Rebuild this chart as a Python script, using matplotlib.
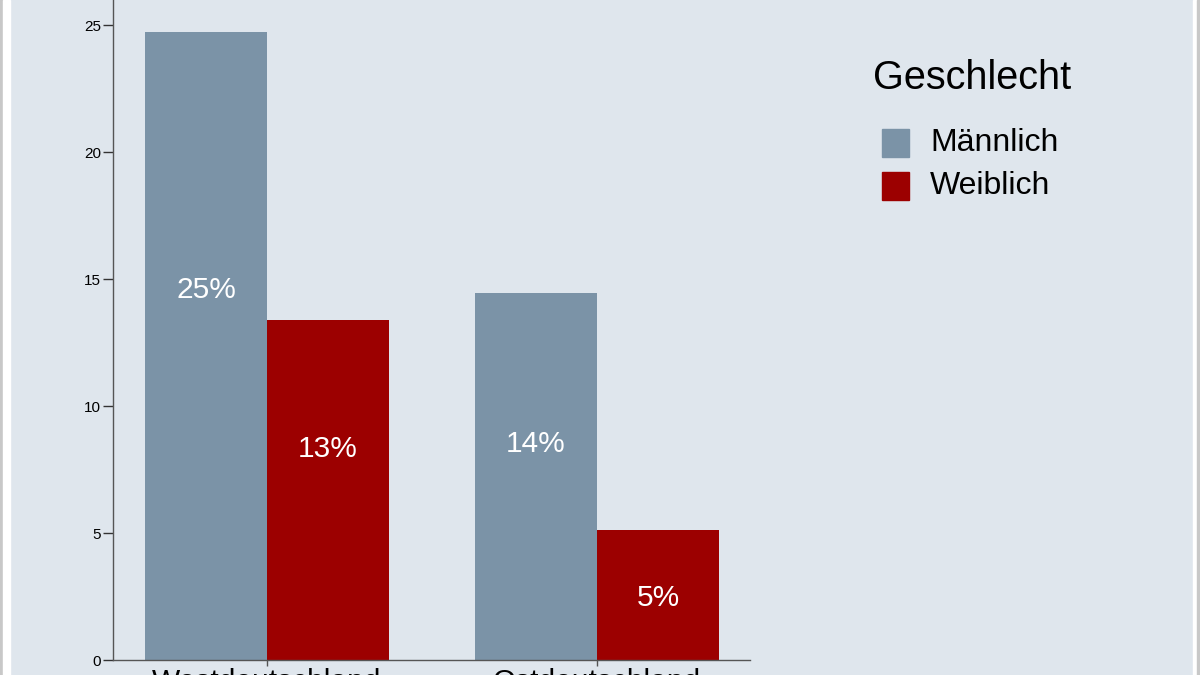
import matplotlib
matplotlib.use("Agg")
import matplotlib.pyplot as plt
from matplotlib.patches import Rectangle
import numpy as np

plt.rcParams['font.family'] = ['Liberation Sans', 'DejaVu Sans']

categories = ["Westdeutschland", "Ostdeutschland"]
series_names = ["Männlich", "Weiblich"]
male = [24.72, 14.45]
female = [13.39, 5.12]
male_labels = ["25%", "14%"]
female_labels = ["13%", "5%"]
yticks = [0, 5, 10, 15, 20, 25]
legend_title = "Geschlecht"

bg = "#dfe6ed"
c_male = "#7b93a7"
c_female = "#9c0000"
colors = [c_male, c_female]

W, H = 1200, 675
fig = plt.figure(figsize=(12, 6.75), dpi=100)
fig.patch.set_facecolor(bg)
# frame strips at the left and right edges
fig.patches.append(Rectangle((0, 0), 3/W, 1, transform=fig.transFigure, color="#c8c8c8", zorder=0))
fig.patches.append(Rectangle((3/W, 0), 7/W, 1, transform=fig.transFigure, color="#ffffff", zorder=0))
fig.patches.append(Rectangle((1193/W, 0), 4/W, 1, transform=fig.transFigure, color="#ffffff", zorder=0))
fig.patches.append(Rectangle((1197/W, 0), 3/W, 1, transform=fig.transFigure, color="#c8c8c8", zorder=0))

ax = fig.add_axes([113/W, 15/H, (750-113)/W, 660/H])
ax.set_facecolor(bg)

x = np.arange(len(categories))
w = 0.37
ax.bar(x - w/2, male, width=w, color=c_male, label=series_names[0])
ax.bar(x + w/2, female, width=w, color=c_female, label=series_names[1])

for xi, v, lab in zip(x - w/2, male, male_labels):
    ax.text(xi, v*0.59, lab, ha="center", va="center", color="white", fontsize=21.5)
for xi, v, lab in zip(x + w/2, female, female_labels):
    ax.text(xi, v*0.62 if v > 8 else v*0.48, lab, ha="center", va="center", color="white", fontsize=21.5)

ax.set_xlim(-0.467, 1.464)
ax.set_ylim(0, 26)
ax.set_yticks(yticks)
ax.set_yticklabels([str(t) for t in yticks], fontsize=11)
ax.set_xticks(x)
ax.set_xticklabels(categories, fontsize=21.5)
for s in ["top", "right"]:
    ax.spines[s].set_visible(False)
for s in ["left", "bottom"]:
    ax.spines[s].set_color("#555555")
    ax.spines[s].set_linewidth(1.0)
ax.tick_params(axis="y", direction="out", length=7, width=1, color="#333333", pad=1.5)
ax.tick_params(axis="x", direction="out", length=4, width=1, color="#555555", pad=2)

# legend drawn manually to match the reference layout
fig.text(873/W, 1 - 78/H, legend_title, fontsize=28.5, ha="left", va="center")
for i, (name, col) in enumerate(zip(series_names, colors)):
    yc = 143 + i * 43
    fig.patches.append(Rectangle((882/W, 1 - (yc + 13.5)/H), 27/W, 27/H,
                                 transform=fig.transFigure, color=col))
    fig.text(930/W, 1 - yc/H, name, fontsize=23, ha="left", va="center")

fig.savefig("out.png", dpi=100, facecolor=bg)
